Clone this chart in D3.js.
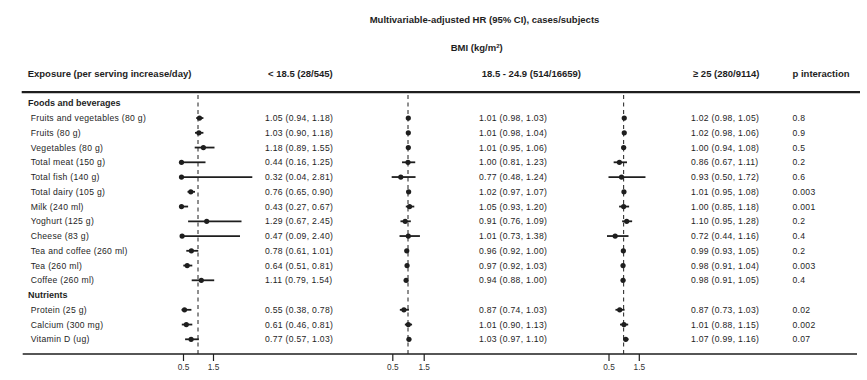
<!DOCTYPE html>
<html>
<head>
<meta charset="utf-8">
<script src="https://cdn.jsdelivr.net/npm/d3@7"></script>
<style>
  html, body { margin: 0; padding: 0; background: #fff; }
  svg { display: block; }
  .narrow { font-family: "Liberation Sans Narrow", "Arial Narrow", "Liberation Sans", Arial, sans-serif; font-stretch: condensed; font-weight: bold; }
  .body { font-family: "Liberation Sans", Arial, sans-serif; letter-spacing: 0.3px; }
</style>
</head>
<body>
<svg id="chart" width="867" height="380"></svg>
<script>
// ---- data ----
const rowLabels = [
  "Foods and beverages",
  "Fruits and vegetables (80 g)", "Fruits (80 g)", "Vegetables (80 g)", "Total meat (150 g)",
  "Total fish (140 g)", "Total dairy (105 g)", "Milk (240 ml)", "Yoghurt (125 g)", "Cheese (83 g)",
  "Tea and coffee (260 ml)", "Tea (260 ml)", "Coffee (260 ml)",
  "Nutrients",
  "Protein (25 g)", "Calcium (300 mg)", "Vitamin D (ug)"
];
const sectionHeaders = ["Foods and beverages", "Nutrients"];
const groupLabels = ["< 18.5 (28/545)", "18.5 - 24.9 (514/16659)", "\u2265 25 (280/9114)"];

// [HR, lower, upper] per row (null for section headers)
const hrLow = [
  null,
  [1.05, 0.94, 1.18], [1.03, 0.90, 1.18], [1.18, 0.89, 1.55], [0.44, 0.16, 1.25],
  [0.32, 0.04, 2.81], [0.76, 0.65, 0.90], [0.43, 0.27, 0.67], [1.29, 0.67, 2.45],
  [0.47, 0.09, 2.40], [0.78, 0.61, 1.01], [0.64, 0.51, 0.81], [1.11, 0.79, 1.54],
  null,
  [0.55, 0.38, 0.78], [0.61, 0.46, 0.81], [0.77, 0.57, 1.03]
];
const hrNormal = [
  null,
  [1.01, 0.98, 1.03], [1.01, 0.98, 1.04], [1.01, 0.95, 1.06], [1.00, 0.81, 1.23],
  [0.77, 0.48, 1.24], [1.02, 0.97, 1.07], [1.05, 0.93, 1.20], [0.91, 0.76, 1.09],
  [1.01, 0.73, 1.38], [0.96, 0.92, 1.00], [0.97, 0.92, 1.03], [0.94, 0.88, 1.00],
  null,
  [0.87, 0.74, 1.03], [1.01, 0.90, 1.13], [1.03, 0.97, 1.10]
];
const hrHigh = [
  null,
  [1.02, 0.98, 1.05], [1.02, 0.98, 1.06], [1.00, 0.94, 1.08], [0.86, 0.67, 1.11],
  [0.93, 0.50, 1.72], [1.01, 0.95, 1.08], [1.00, 0.85, 1.18], [1.10, 0.95, 1.28],
  [0.72, 0.44, 1.16], [0.99, 0.93, 1.05], [0.98, 0.91, 1.04], [0.98, 0.91, 1.05],
  null,
  [0.87, 0.73, 1.03], [1.01, 0.88, 1.15], [1.07, 0.99, 1.16]
];
const pInteraction = [
  null, "0.8", "0.9", "0.5", "0.2", "0.6", "0.003", "0.001", "0.2", "0.4", "0.2", "0.003", "0.4",
  null, "0.02", "0.002", "0.07"
];
const tickValues = [0.5, 1.5];
const refValue = 1;
const lowerClip = 0.45;

// ---- layout ----
const svg = d3.select("#chart");
const ink = "#1e1e1e";
const y = d3.scalePoint().domain(rowLabels).range([103.3, 339.3]);

const panels = [
  { data: hrLow,    x: d3.scaleLinear().domain([0.5, 1.5]).range([183, 213]),     textX: 265 },
  { data: hrNormal, x: d3.scaleLinear().domain([0.5, 1.5]).range([392.3, 423.7]), textX: 479 },
  { data: hrHigh,   x: d3.scaleLinear().domain([0.5, 1.5]).range([608.5, 638.8]), textX: 691 }
];
const groupHeaderX = [268, 481.7, 693];
const pX = 792.5;
const topLineY = 92.2, axisY = 354;

// Titles
svg.append("text").attr("class", "narrow").attr("x", 484.5).attr("y", 20).attr("dy", "0.35em")
  .attr("text-anchor", "middle").attr("font-size", 9.5).attr("fill", ink)
  .text("Multivariable-adjusted HR (95% CI), cases/subjects");
const bmi = svg.append("text").attr("class", "narrow").attr("x", 476.7).attr("y", 47.5).attr("dy", "0.35em")
  .attr("text-anchor", "middle").attr("font-size", 9.5).attr("fill", ink);
bmi.append("tspan").text("BMI (kg/m");
bmi.append("tspan").attr("font-size", 6).attr("dy", "-0.5em").text("2");
bmi.append("tspan").attr("dy", "0.3em").text(")");

// Column headers
const hdrY = 74;
svg.append("text").attr("class", "narrow").attr("x", 27.7).attr("y", hdrY).attr("dy", "0.35em")
  .attr("font-size", 9.5).attr("fill", ink).text("Exposure (per serving increase/day)");
groupLabels.forEach((g, i) => {
  svg.append("text").attr("class", "narrow").attr("x", groupHeaderX[i]).attr("y", hdrY).attr("dy", "0.35em")
    .attr("font-size", 9.5).attr("fill", ink).text(g);
});
svg.append("text").attr("class", "narrow").attr("x", pX).attr("y", hdrY).attr("dy", "0.35em")
  .attr("font-size", 9.5).attr("fill", ink).text("p interaction");

// Top rule
svg.append("line").attr("x1", 21.7).attr("x2", 860).attr("y1", topLineY).attr("y2", topLineY)
  .attr("stroke", ink).attr("stroke-width", 2.2);

// Row labels
rowLabels.forEach((lab, i) => {
  const isHdr = sectionHeaders.includes(lab);
  svg.append("text")
    .attr("class", "body")
    .attr("x", isHdr ? 28 : 30.7)
    .attr("y", y(lab)).attr("dy", "0.35em")
    .attr("font-size", isHdr ? 9 : 8.6)
    .attr("font-weight", isHdr ? "bold" : "normal")
    .style("letter-spacing", isHdr ? "0px" : null)
    .attr("fill", ink)
    .text(lab);
  if (pInteraction[i] !== null) {
    svg.append("text").attr("class", "body").attr("x", pX).attr("y", y(lab)).attr("dy", "0.35em")
      .attr("font-size", 8.6).attr("fill", ink).text(pInteraction[i]);
  }
});

const fmt = d3.format(".2f");
panels.forEach(p => {
  const g = svg.append("g");
  // reference dashed line
  g.append("line").attr("x1", p.x(refValue)).attr("x2", p.x(refValue))
    .attr("y1", 95).attr("y2", axisY)
    .attr("stroke", ink).attr("stroke-width", 1).attr("stroke-dasharray", "4,3.5");
  rowLabels.forEach((lab, i) => {
    const d = p.data[i];
    if (!d) return;
    const cx = v => p.x(Math.max(v, lowerClip));
    g.append("line").attr("x1", cx(d[1])).attr("x2", cx(d[2]))
      .attr("y1", y(lab)).attr("y2", y(lab))
      .attr("stroke", ink).attr("stroke-width", 1.8);
    g.append("circle").attr("cx", cx(d[0])).attr("cy", y(lab)).attr("r", 2.6).attr("fill", ink);
    svg.append("text").attr("class", "body").attr("x", p.textX).attr("y", y(lab)).attr("dy", "0.35em")
      .attr("font-size", 8.6).attr("fill", ink)
      .text(`${fmt(d[0])} (${fmt(d[1])}, ${fmt(d[2])})`);
  });
  // axis
  const ax = svg.append("g").attr("transform", `translate(0,${axisY})`)
    .call(d3.axisBottom(p.x).tickValues(tickValues).tickSize(7).tickPadding(3).tickFormat(d3.format(".1f")));
  ax.select(".domain").remove();
  ax.selectAll(".tick line").attr("stroke", ink).attr("stroke-width", 1.2);
  ax.selectAll(".tick text").attr("font-family", "Liberation Sans, Arial, sans-serif")
    .attr("font-size", 8.3).attr("fill", "#333");
});

// Bottom axis line
svg.append("line").attr("x1", 22.7).attr("x2", 857).attr("y1", axisY).attr("y2", axisY)
  .attr("stroke", ink).attr("stroke-width", 1.3);
</script>
</body>
</html>
